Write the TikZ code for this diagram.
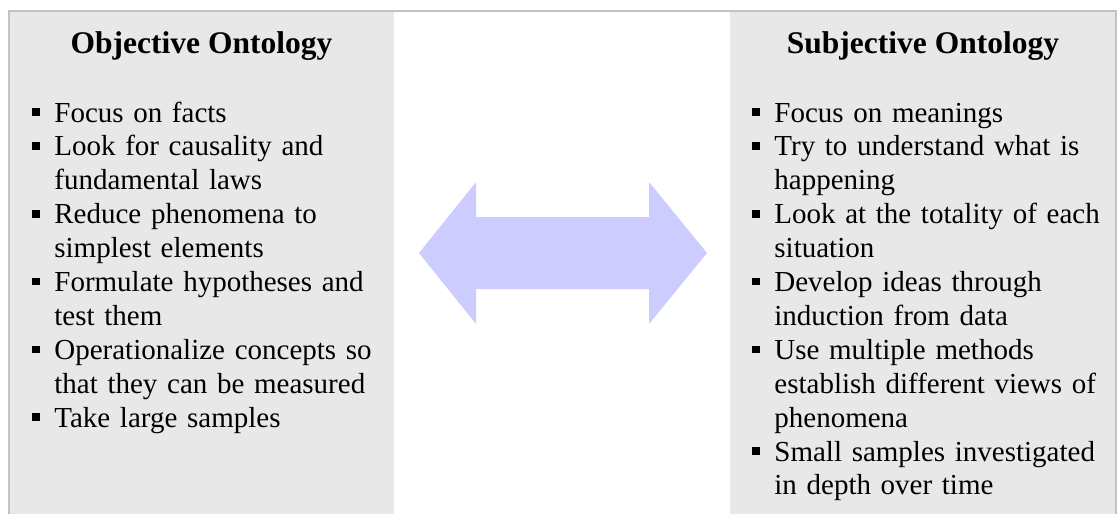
\documentclass[tikz,border=0pt]{standalone}
\usepackage{fontspec}
\setmainfont{Liberation Serif}
\usepackage{xcolor}
\usepackage{tikz}
\usetikzlibrary{positioning}
\definecolor{panelgray}{RGB}{232, 232, 232}
\definecolor{framegray}{RGB}{195, 195, 195}
\definecolor{arrowlilac}{RGB}{204, 204, 255}

\begin{document}
\begin{tikzpicture}[
  x=0.5pt, y=-0.5pt,
  panel/.style={fill=panelgray, draw=none, minimum height=251.5pt,
                inner sep=0pt, anchor=north west},
  heading/.style={font=\fontsize{15.75}{18}\selectfont\bfseries, anchor=base, inner sep=0pt},
  item/.style={font=\fontsize{14.5}{16.95}\selectfont, text width=185pt, align=left,
               anchor=base west, inner sep=0pt},
  bullet/.style={fill=black, minimum size=3.8pt, inner sep=0pt}
]
  \useasboundingbox (0,0) rectangle (1117,514);

  \node[panel, minimum width=192.5pt] (objpanel)  at (9,11)   {};
  \node[panel, minimum width=193pt]   (subjpanel) at (730,11) {};
  \draw[framegray, line width=0.75pt] (9,514) -- (9,11) -- (1116,11) -- (1116,514);

  \node[heading] (objtitle)  at (201.5,53) {Objective Ontology};
  \node[heading] (subjtitle) at (923,53)   {Subjective Ontology};

  \foreach \ln/\txt in {0/{Focus on facts},
                        1/{Look for causality and\\fundamental laws},
                        3/{Reduce phenomena to\\simplest elements},
                        5/{Formulate hypotheses and\\test them},
                        7/{Operationalize concepts so\\that they can be measured},
                        9/{Take large samples}} {
    \node[bullet] (objb\ln) at (36,{112+\ln*33.9}) {};
    \node[item] (obj\ln) at (54,{122+\ln*33.9}) {\txt};
  }

  \foreach \ln/\txt in {0/{Focus on meanings},
                        1/{Try to understand what is\\happening},
                        3/{Look at the totality of each\\situation},
                        5/{Develop ideas through\\induction from data},
                        7/{Use multiple methods\\establish different views of\\phenomena},
                        10/{Small samples investigated\\in depth over time}} {
    \node[bullet] (subjb\ln) at (756,{112+\ln*33.9}) {};
    \node[item] (subj\ln) at (774,{122+\ln*33.9}) {\txt};
  }

  \fill[arrowlilac] (419,253) -- (476,182) -- (476,217) -- (649,217) -- (649,182)
    -- (707,253) -- (649,324) -- (649,289) -- (476,289) -- (476,324) -- cycle;
\end{tikzpicture}
\end{document}
